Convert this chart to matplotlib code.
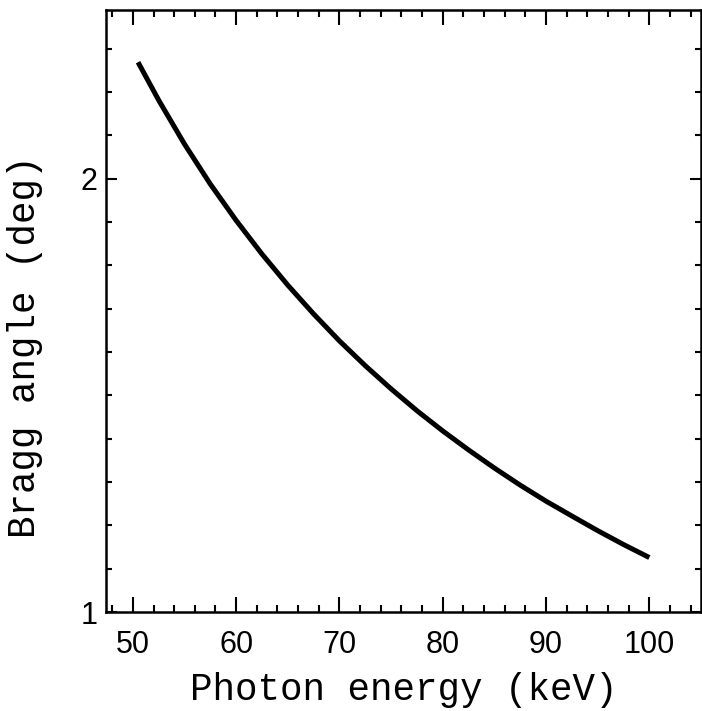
import matplotlib
matplotlib.use("Agg")
import matplotlib.pyplot as plt
from matplotlib.ticker import FixedLocator, NullFormatter, FixedFormatter

# Data
energy_kev = [50.5, 52.5, 55.0, 57.5, 60.0, 62.5, 65.0, 67.5, 70.0, 72.5, 75.0,
              77.5, 80.0, 82.5, 85.0, 87.5, 90.0, 92.5, 95.0, 97.5, 100.0]
bragg_deg = [2.410, 2.268, 2.114, 1.983, 1.871, 1.773, 1.687, 1.611, 1.543, 1.483, 1.429,
             1.380, 1.336, 1.296, 1.259, 1.225, 1.194, 1.166, 1.139, 1.114, 1.091]

x_major = [50, 60, 70, 80, 90, 100]
x_labels = ["50", "60", "70", "80", "90", "100"]
x_minor = list(range(48, 106, 2))
y_major = [1, 2]
y_labels = ["1", "2"]
y_minor_exp = [k / 10 for k in range(1, 14) if k != 10]

fig = plt.figure(figsize=(7.02, 7.11), dpi=100)
ax = fig.add_axes([106 / 702, 99 / 711, 595 / 702, 602 / 711])

ax.plot(energy_kev, bragg_deg, color="black", lw=3.6, solid_capstyle="butt")

ax.set_yscale("log")
ax.set_xlim(47.4, 105.0)
ax.set_ylim(1.0, 2.62)

ax.xaxis.set_major_locator(FixedLocator(x_major))
ax.xaxis.set_major_formatter(FixedFormatter(x_labels))
ax.xaxis.set_minor_locator(FixedLocator([v for v in x_minor if v not in x_major]))
ax.xaxis.set_minor_formatter(NullFormatter())

ax.yaxis.set_major_locator(FixedLocator(y_major))
ax.yaxis.set_major_formatter(FixedFormatter(y_labels))
ax.yaxis.set_minor_locator(FixedLocator([2 ** e for e in y_minor_exp]))
ax.yaxis.set_minor_formatter(NullFormatter())

for s in ax.spines.values():
    s.set_linewidth(1.8)

ax.tick_params(axis="x", which="major", direction="in", length=10.8, width=1.5,
               top=True, bottom=True, pad=13, labelsize=22)
ax.tick_params(axis="x", which="minor", direction="in", length=5.0, width=1.5,
               top=True, bottom=True)
ax.tick_params(axis="y", which="major", direction="in", length=8, width=1.5,
               left=True, right=True, pad=6, labelsize=22)
ax.tick_params(axis="y", which="minor", direction="in", length=4, width=1.5,
               left=True, right=True)
for lab in ax.get_xticklabels() + ax.get_yticklabels():
    lab.set_fontfamily("Liberation Sans")

ax.set_xlabel("Photon energy (keV)", fontfamily="Liberation Mono", fontsize=27,
              va="baseline")
ax.xaxis.set_label_coords(0.5, -0.146)
ax.set_ylabel("Bragg angle (deg)", fontfamily="Liberation Mono", fontsize=27,
              va="center")
ax.yaxis.set_label_coords(-0.136, 0.44)

fig.savefig("out.png", dpi=100)
